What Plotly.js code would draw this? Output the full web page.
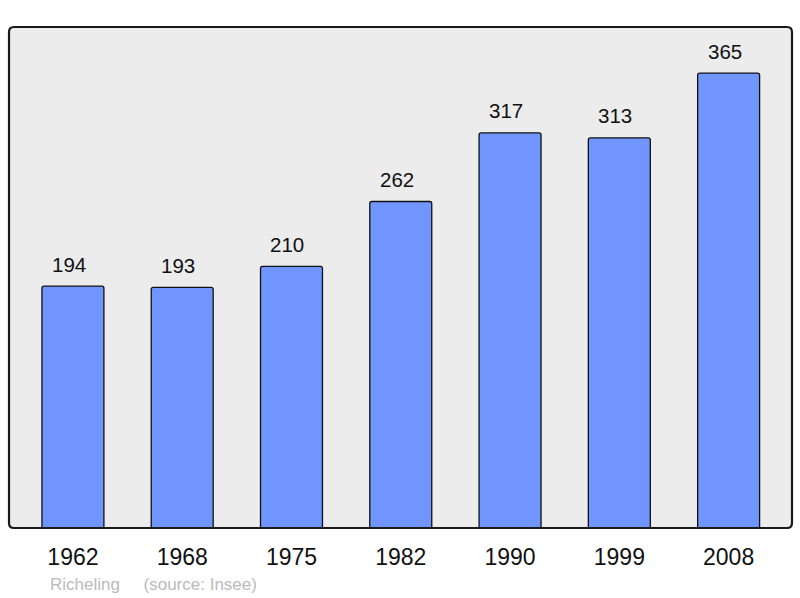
<!DOCTYPE html>
<html><head><meta charset="utf-8">
<script src="https://cdn.plot.ly/plotly-3.0.1.min.js"></script>
<style>html,body{margin:0;padding:0;background:#fff}#chart{width:800px;height:598px}</style>
</head><body><div id="chart"></div>
<script>
const years = ["1962","1968","1975","1982","1990","1999","2008"];
const population = [194,193,210,262,317,313,365];
const footerText = "Richeling     (source: Insee)";

const W = 800, H = 598;
const m = {l: 9, r: 8, t: 27, b: 70};
const pw = W - m.l - m.r, ph = H - m.t - m.b;
const rx = 5 / pw, ry = 5 / ph;
const borderPath = `M ${rx} 0 L ${1-rx} 0 Q 1 0 1 ${ry} L 1 ${1-ry} Q 1 1 ${1-rx} 1 L ${rx} 1 Q 0 1 0 ${1-ry} L 0 ${ry} Q 0 0 ${rx} 0 Z`;

const trace = {
  type: "bar", x: years, y: population,
  width: 0.567,
  marker: {color: "#7095ff", line: {color: "#111", width: 1.3}, cornerradius: 2},
  hoverinfo: "skip"
};

// value labels: x given as category index
const annotations = population.map((v, i) => ({
  x: i, y: v, xref: "x", yref: "y",
  text: String(v), showarrow: false, yshift: 22, xshift: -4,
  xanchor: "center", yanchor: "middle",
  font: {family: "Liberation Sans, Arial, sans-serif", size: 20.5, color: "#111"}
}));
annotations.push({
  xref: "paper", yref: "paper", x: (48 - m.l) / pw, y: -(584 - (H - m.b)) / ph,
  xanchor: "left", yanchor: "middle", showarrow: false,
  text: footerText.replace(/ /g, "&nbsp;"),
  font: {family: "Liberation Sans, Arial, sans-serif", size: 17, color: "#bbbbbb"}
});

const layout = {
  width: W, height: H, margin: m,
  paper_bgcolor: "#ffffff", plot_bgcolor: "#ececec",
  showlegend: false,
  xaxis: {
    type: "category", range: [-0.585, 6.58], showgrid: false, zeroline: false,
    showline: false, ticks: "outside", ticklen: 8, tickcolor: "rgba(0,0,0,0)",
    tickfont: {family: "Liberation Sans, Arial, sans-serif", size: 23, color: "#111"},
    fixedrange: true
  },
  yaxis: {range: [0, 402], showgrid: false, zeroline: false, showticklabels: false,
    showline: false, ticks: "", fixedrange: true},
  shapes: [{type: "path", xref: "paper", yref: "paper", path: borderPath,
    line: {color: "#1a1a1a", width: 2.2}, layer: "above"}],
  annotations: annotations
};

Plotly.newPlot("chart", [trace], layout, {displayModeBar: false, staticPlot: true});
</script></body></html>
